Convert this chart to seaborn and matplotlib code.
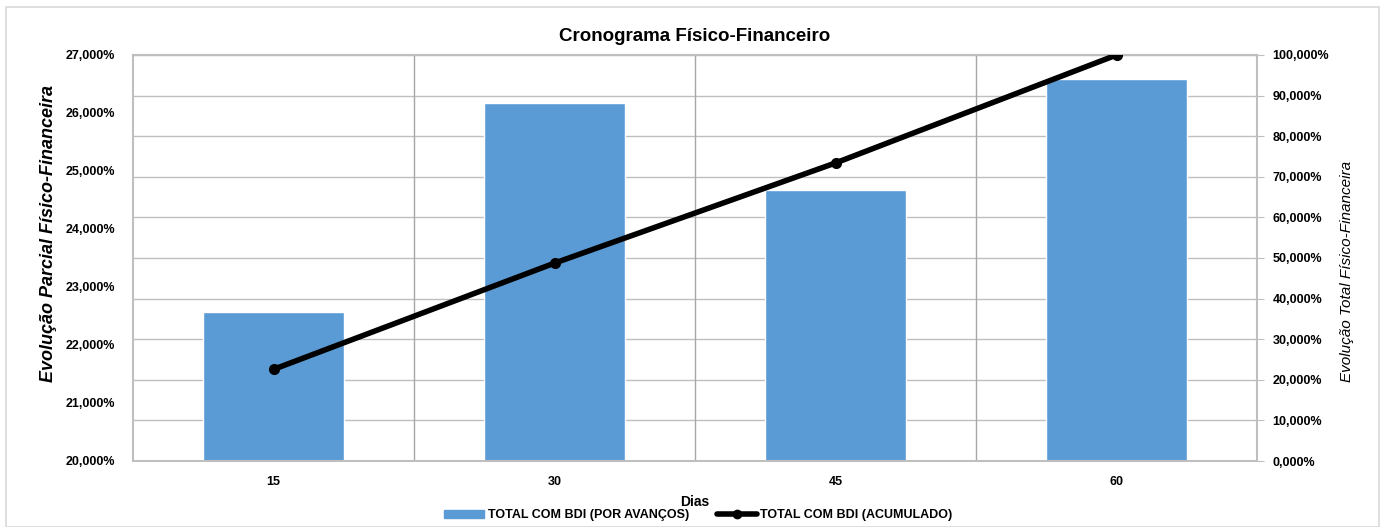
import matplotlib
matplotlib.use("Agg")
import matplotlib.pyplot as plt
import matplotlib.ticker as mticker
import numpy as np
import pandas as pd
import seaborn as sns
from matplotlib.patches import Rectangle

# data
dias = ["15", "30", "45", "60"]
parcial = [22.57, 26.17, 24.67, 26.59]      # % per period (left axis)
acumulado = [22.57, 48.74, 73.41, 100.0]    # cumulative % (right axis)

df = pd.DataFrame({"dias": dias, "parcial": parcial, "acumulado": acumulado})

sns.set_style("white")
plt.rcParams["font.family"] = ["Liberation Sans Narrow", "Liberation Sans", "DejaVu Sans"]
plt.rcParams["text.color"] = "black"
plt.rcParams["axes.labelcolor"] = "black"
plt.rcParams["xtick.color"] = "black"
plt.rcParams["ytick.color"] = "black"


def pct(v, p):
    return f"{v:.3f}".replace(".", ",") + "%"


fig = plt.figure(figsize=(13.83, 5.27), dpi=100)
fig.patch.set_facecolor("white")
fig.patches.append(Rectangle((6 / 1383, 0), 1373 / 1383, 520 / 527, transform=fig.transFigure,
                             fill=False, edgecolor="#d9d9d9", linewidth=1.2))

pos = [133 / 1383, 66 / 527, 1124 / 1383, 406 / 527]
ax = fig.add_axes(pos)
ax_grid = ax.twinx()
ax2 = ax.twinx()

ax_grid.set_zorder(0)
ax.set_zorder(1)
ax2.set_zorder(2)
ax.patch.set_visible(False)
ax2.patch.set_visible(False)
ax_grid.patch.set_facecolor("white")

# background grid (follows right axis steps)
ax_grid.set_ylim(0, 100)
ax_grid.set_yticks(np.arange(0, 101, 10))
ax_grid.yaxis.grid(True, color="#bfbfbf", linewidth=1)
ax_grid.tick_params(axis="y", length=0, labelright=False, labelleft=False)
for s in ax_grid.spines.values():
    s.set_visible(False)

# bars
sns.barplot(data=df, x="dias", y="parcial", color="#5b9bd5", saturation=1,
            width=0.5, ax=ax, zorder=2)
ax.set_ylim(20, 27)
ax.set_yticks(np.arange(20, 27.1, 1))
ax.yaxis.set_major_formatter(mticker.FuncFormatter(pct))
ax.set_xticks([0.5, 1.5, 2.5], minor=True)
ax.xaxis.grid(True, which="minor", color="#a6a6a6", linewidth=1)
ax.set_axisbelow(True)
ax.tick_params(axis="y", length=0, pad=13, labelsize=9)
ax.tick_params(axis="x", which="both", length=0, pad=11, labelsize=9)
for lab in ax.get_yticklabels() + ax.get_xticklabels():
    lab.set_fontweight("bold")
ax.set_xlabel("Dias", fontsize=10, fontweight="bold", labelpad=5)
ax.set_ylabel("Evolução Parcial Físico-Financeira", fontsize=13, fontweight="bold",
              fontstyle="italic")
ax.yaxis.set_label_coords(-0.068, 0.56)
for s in ax.spines.values():
    s.set_color("#bfbfbf")
    s.set_linewidth(1.5)

# cumulative line
ax2.plot(np.arange(len(dias)), df["acumulado"], color="black", linewidth=4,
         marker="o", markersize=7, zorder=3)
ax2.set_ylim(0, 100)
ax2.set_yticks(np.arange(0, 101, 10))
ax2.yaxis.set_major_formatter(mticker.FuncFormatter(pct))
ax2.tick_params(axis="y", length=5, color="#bfbfbf", pad=6, labelsize=9)
for lab in ax2.get_yticklabels():
    lab.set_fontweight("bold")
ax2.set_ylabel("Evolução Total Físico-Financeira", fontsize=11, fontstyle="italic")
ax2.yaxis.set_label_coords(1.074, 0.466)
for s in ax2.spines.values():
    s.set_visible(False)
ax.set_xlim(-0.5, 3.5)

ax.set_title("Cronograma Físico-Financeiro", fontsize=13.5, fontweight="bold", pad=10)

# legend
handles = [Rectangle((0, 0), 1, 1, color="#5b9bd5"),
           plt.Line2D([], [], color="black", linewidth=4, marker="o", markersize=6)]
labels = ["TOTAL COM BDI (POR AVANÇOS)", "TOTAL COM BDI (ACUMULADO)"]
fig.legend(handles, labels, loc="center", bbox_to_anchor=(0.505, 0.022), ncol=2,
           frameon=False, handlelength=3.2, handletextpad=0.3, columnspacing=2.2,
           prop={"weight": "bold", "size": 9})

fig.savefig("out.png", dpi=100)
